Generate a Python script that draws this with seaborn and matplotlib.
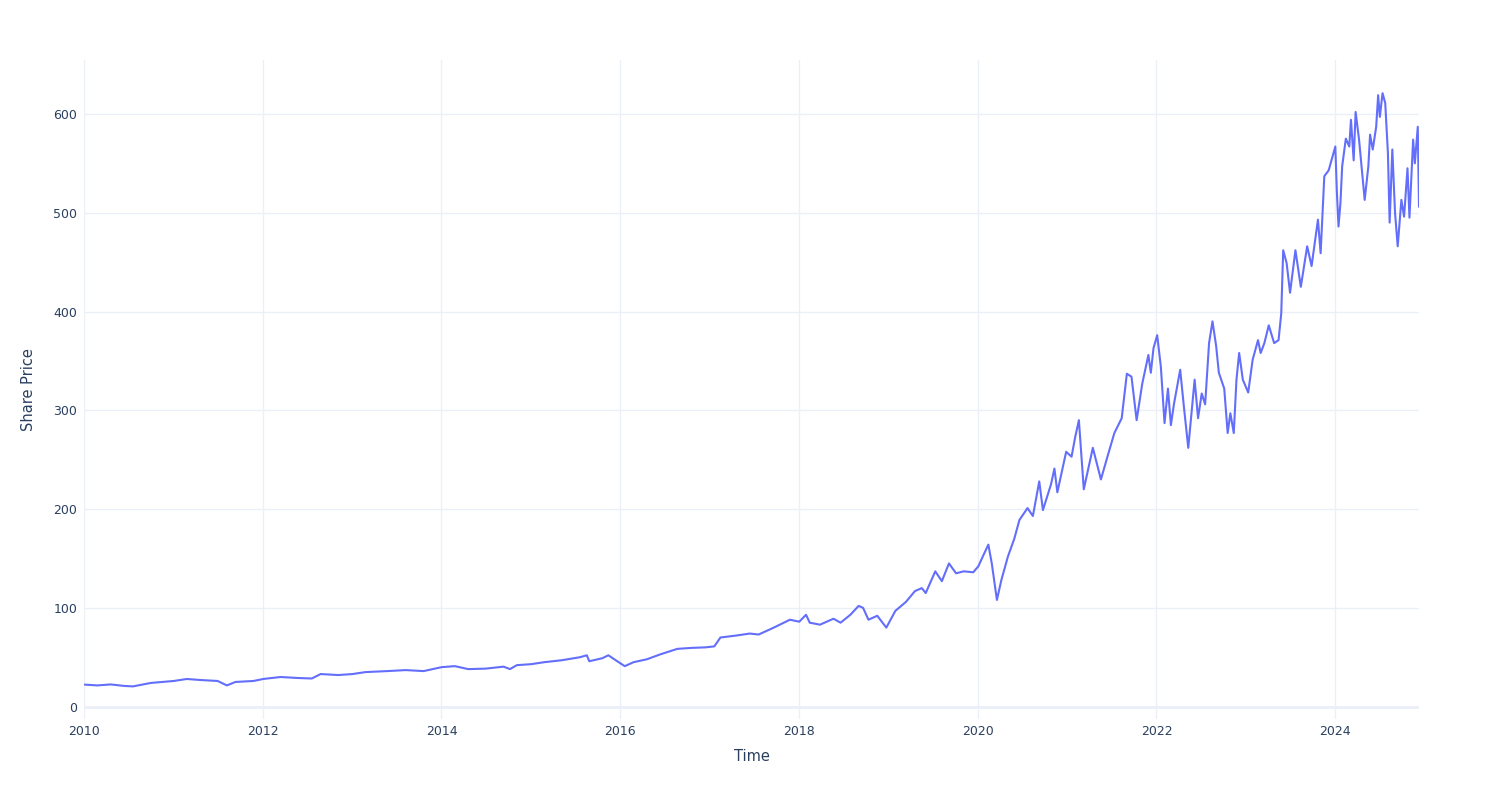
import matplotlib
matplotlib.use("Agg")
import matplotlib.pyplot as plt
import matplotlib.dates as mdates
import pandas as pd
import seaborn as sns

dates = [
    "2010-01-04", "2010-02-25", "2010-04-20", "2010-06-14", "2010-07-20", "2010-10-01",
    "2011-01-03", "2011-02-25", "2011-04-20", "2011-07-01", "2011-08-08", "2011-09-12", "2011-11-25",
    "2012-01-03", "2012-03-14", "2012-05-25", "2012-07-20", "2012-08-25", "2012-11-05",
    "2013-01-02", "2013-02-25", "2013-05-25", "2013-08-08", "2013-10-20",
    "2014-01-02", "2014-02-25", "2014-04-20", "2014-07-01", "2014-09-12", "2014-10-08", "2014-11-05",
    "2015-01-02", "2015-02-25", "2015-05-08", "2015-07-20", "2015-08-18", "2015-08-28", "2015-10-20",
    "2015-11-14", "2015-12-14",
    "2016-01-20", "2016-02-25", "2016-04-20", "2016-06-14", "2016-08-22", "2016-10-20", "2016-12-14",
    "2017-01-20", "2017-02-14", "2017-04-20", "2017-06-14", "2017-07-20", "2017-09-20", "2017-11-25",
    "2018-01-02", "2018-01-30", "2018-02-14", "2018-03-28", "2018-05-22", "2018-06-20", "2018-07-30",
    "2018-09-02", "2018-09-20", "2018-10-12", "2018-11-17", "2018-12-24",
    "2019-01-30", "2019-03-14", "2019-04-20", "2019-05-18", "2019-06-03", "2019-07-12", "2019-08-08",
    "2019-09-06", "2019-10-05", "2019-11-06", "2019-12-14",
    "2020-01-04", "2020-01-26", "2020-02-14", "2020-02-28", "2020-03-20", "2020-04-07", "2020-05-04",
    "2020-05-30", "2020-06-20", "2020-07-23", "2020-08-14", "2020-09-09", "2020-09-24", "2020-10-27",
    "2020-11-10", "2020-11-22", "2020-12-28",
    "2021-01-19", "2021-02-03", "2021-02-18", "2021-03-10", "2021-04-16", "2021-05-19", "2021-06-17",
    "2021-07-13", "2021-08-12", "2021-09-02", "2021-09-21", "2021-10-12", "2021-11-04", "2021-11-29",
    "2021-12-09", "2021-12-20",
    "2022-01-04", "2022-01-19", "2022-02-03", "2022-02-17", "2022-03-01", "2022-03-14", "2022-04-08",
    "2022-04-23", "2022-05-11", "2022-06-06", "2022-06-20", "2022-07-05", "2022-07-19", "2022-08-04",
    "2022-08-18", "2022-09-02", "2022-09-13", "2022-10-05", "2022-10-19", "2022-10-30", "2022-11-13",
    "2022-11-24", "2022-12-05", "2022-12-20",
    "2023-01-11", "2023-01-29", "2023-02-20", "2023-03-03", "2023-03-18", "2023-04-05", "2023-04-27",
    "2023-05-15", "2023-05-26", "2023-06-03", "2023-06-17", "2023-07-01", "2023-07-23", "2023-08-14",
    "2023-09-09", "2023-09-27", "2023-10-23", "2023-11-03", "2023-11-18", "2023-12-06",
    "2024-01-02", "2024-01-08", "2024-01-15", "2024-01-23", "2024-01-30", "2024-02-14", "2024-02-28",
    "2024-03-06", "2024-03-17", "2024-03-25", "2024-04-08", "2024-05-01", "2024-05-16", "2024-05-23",
    "2024-06-03", "2024-06-17", "2024-06-25", "2024-07-02", "2024-07-13", "2024-07-24", "2024-08-04",
    "2024-08-11", "2024-08-22", "2024-09-02", "2024-09-13", "2024-09-28", "2024-10-09", "2024-10-23",
    "2024-10-31", "2024-11-15", "2024-11-22", "2024-12-04", "2024-12-09",
]

share_price = [
    22.3, 21.5, 22.5, 21, 20.5, 24,
    26, 28, 27, 26, 21.5, 25, 26,
    28, 30, 29, 28.5, 33, 32,
    33, 35, 36, 37, 36,
    40, 41, 38, 38.5, 40.5, 38, 42,
    43, 45, 47, 50, 52, 46, 49,
    52, 47,
    41, 45, 48, 53, 58.5, 59.5, 60,
    61, 70, 72, 74, 73, 80, 88,
    86, 93, 85, 83, 89, 85, 93,
    102, 100, 88, 92, 80,
    97, 106, 117, 120, 115, 137, 127,
    145, 135, 137, 136,
    142, 154, 164, 145, 108, 128, 152,
    170, 189, 201, 193, 228, 199, 225,
    241, 217, 258,
    253, 273, 290, 220, 262, 230, 255,
    277, 292, 337, 334, 290, 327, 356,
    338, 363,
    376, 344, 287, 322, 285, 307, 341,
    304, 262, 331, 292, 317, 306, 368,
    390, 365, 338, 322, 277, 297, 277,
    331, 358, 331,
    318, 351, 371, 358, 368, 386, 368,
    371, 398, 462, 449, 419, 462, 425,
    466, 446, 493, 459, 537, 543,
    567, 523, 486, 510, 547, 575, 567,
    594, 553, 602, 574, 513, 547, 579,
    564, 587, 619, 597, 621, 611, 560,
    490, 564, 500, 466, 513, 496, 545,
    495, 574, 550, 587, 506,
]

df = pd.DataFrame({"Time": pd.to_datetime(dates), "Share Price": share_price})

sns.set_theme(style="white")
plt.rcParams["font.family"] = ["DejaVu Sans"]

fig = plt.figure(figsize=(15, 8), dpi=100)
ax = fig.add_axes([84 / 1500, 81 / 800, (1419 - 84) / 1500, (719 - 60) / 800])

sns.lineplot(data=df, x="Time", y="Share Price", ax=ax, color="#636efa", linewidth=1.5)

ax.set_xlim(pd.Timestamp("2010-01-01"), pd.Timestamp("2024-12-09"))
ax.set_ylim(-12.5, 654.6)
ax.set_yticks([0, 100, 200, 300, 400, 500, 600])
ax.xaxis.set_major_locator(mdates.YearLocator(2))
ax.xaxis.set_major_formatter(mdates.DateFormatter("%Y"))

ax.grid(True, color="#EBF0F8", linewidth=1)
ax.axhline(0, color="#EBF0F8", linewidth=2, zorder=0.5)
ax.set_axisbelow(True)
for s in ax.spines.values():
    s.set_visible(False)

ax.tick_params(axis="both", length=0, labelsize=9, labelcolor="#2a3f5f")
ax.tick_params(axis="x", pad=4)
ax.tick_params(axis="y", pad=5)
ax.set_xlabel("Time", fontsize=10.5, color="#2a3f5f", labelpad=8.5)
ax.set_ylabel("Share Price", fontsize=10.5, color="#2a3f5f", labelpad=12.5)

fig.savefig("out.png", dpi=100, facecolor="white")
